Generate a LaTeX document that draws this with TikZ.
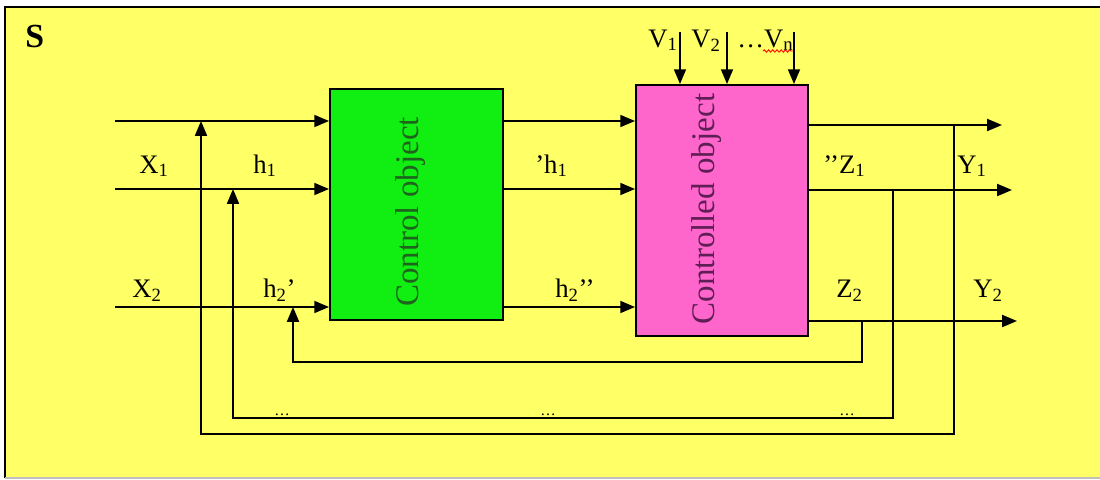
\documentclass[tikz,border=0pt]{standalone}
\usepackage{fontspec}
\setmainfont{Liberation Serif}
\usetikzlibrary{arrows.meta,decorations.pathmorphing}
\definecolor{bgyellow}{RGB}{255,255,102}
\definecolor{boxgreen}{RGB}{17,238,17}
\definecolor{boxpink}{RGB}{255,102,204}
\definecolor{txtgreen}{RGB}{30,100,30}
\definecolor{txtpink}{RGB}{95,30,85}
\begin{document}
\begin{tikzpicture}[x=0.025cm,y=-0.025cm,
  wire/.style={line width=1.3pt},
  arr/.style={line width=1.3pt,-{Triangle[length=10.5pt,width=8.5pt]}},
  lbl/.style={inner sep=0pt,anchor=base west,font=\fontsize{19}{22}\selectfont},
  dots/.style={inner sep=0pt,anchor=base,font=\fontsize{11}{12}\selectfont},
  blk/.style={draw=black,line width=1.3pt,inner sep=0pt},
  blktext/.style={rotate=90,inner sep=0pt,font=\fontsize{23.5}{26}\selectfont}]
\useasboundingbox (0,0) rectangle (1100,480);
% background frame
\fill[white] (0,0) rectangle (1100,480);
\fill[bgyellow] (5,7) rectangle (1100,478);
\draw[black,line width=1.2pt] (5,478) -- (5,7) -- (1100,7);
\draw[black!25,line width=0.8pt] (5,478) -- (1100,478);
\node[inner sep=0pt,anchor=base west,font=\fontsize{24}{26}\selectfont\bfseries] (S) at (25,47) {S};

% blocks
\node[blk,fill=boxgreen,minimum width=4.325cm,minimum height=5.775cm] (co) at (416.5,204.5) {};
\node[blk,fill=boxpink,minimum width=4.3cm,minimum height=6.275cm] (po) at (722,210.5) {};
\node[blktext,text=txtgreen] (cot) at (411,212) {Control object};
\node[blktext,text=txtpink] (pot) at (707,209) {Controlled object};

% free ends
\coordinate (a1) at (115,121);
\coordinate (a2) at (115,189);
\coordinate (a3) at (115,307);
\coordinate (o1) at (1002,125);
\coordinate (o2) at (1012,190);
\coordinate (o3) at (1017,321);

% inputs
\draw[arr] (a1) -- (a1 -| co.west);
\draw[arr] (a2) -- (a2 -| co.west);
\draw[arr] (a3) -- (a3 -| co.west);
% between blocks
\draw[arr] (a1 -| co.east) -- (a1 -| po.west);
\draw[arr] (a2 -| co.east) -- (a2 -| po.west);
\draw[arr] (a3 -| co.east) -- (a3 -| po.west);
% outputs
\draw[arr] (o1 -| po.east) -- (o1);
\draw[arr] (o2 -| po.east) -- (o2);
\draw[arr] (o3 -| po.east) -- (o3);

% disturbances V
\coordinate (v1s) at (680,32);
\coordinate (v2s) at (727,32);
\coordinate (v3s) at (794,32);
\draw[arr] (v1s) -- (v1s |- po.north);
\draw[arr] (v2s) -- (v2s |- po.north);
\draw[arr] (v3s) -- (v3s |- po.north);
\node[lbl] (V1) at (648,47) {V\textsubscript{1}};
\node[lbl] (V2) at (691,47) {V\textsubscript{2}};
\node[lbl] (Vn) at (737,47) {…V\textsubscript{n}};
\coordinate (sqA) at (763,51);
\coordinate (sqB) at (793,51);
\draw[red!85!orange,line width=0.7pt,decorate,decoration={snake,amplitude=0.8pt,segment length=3pt}] (sqA) -- (sqB);

% feedback loops
\coordinate (jA) at (862,321);
\coordinate (fA1) at (862,362);
\coordinate (fA2) at (293,362);
\coordinate (tA) at (293,307);
\draw[arr] (jA) -- (fA1) -- (fA2) -- (tA);

\coordinate (jB) at (893,190);
\coordinate (fB1) at (893,418);
\coordinate (fB2) at (233,418);
\coordinate (tB) at (233,189);
\draw[arr] (jB) -- (fB1) -- (fB2) -- (tB);

\coordinate (jC) at (954,125);
\coordinate (fC1) at (954,434);
\coordinate (fC2) at (201,434);
\coordinate (tC) at (201,121);
\draw[arr] (jC) -- (fC1) -- (fC2) -- (tC);

\node[dots] (d1) at (282,415) {…};
\node[dots] (d2) at (548,415) {…};
\node[dots] (d3) at (847,415) {…};

% labels
\node[lbl] (X1) at (139,173) {X\textsubscript{1}};
\node[lbl] (h1) at (253,173) {h\textsubscript{1}};
\node[lbl] (h1p) at (535,173) {’h\textsubscript{1}};
\node[lbl] (Z1) at (823,173) {’’Z\textsubscript{1}};
\node[lbl] (Y1) at (957,173) {Y\textsubscript{1}};
\node[lbl] (X2) at (132,297) {X\textsubscript{2}};
\node[lbl] (h2p) at (263,297) {h\textsubscript{2}’};
\node[lbl] (h2pp) at (555,297) {h\textsubscript{2}’’};
\node[lbl] (Z2) at (836,297) {Z\textsubscript{2}};
\node[lbl] (Y2) at (973,297) {Y\textsubscript{2}};
\end{tikzpicture}
\end{document}
